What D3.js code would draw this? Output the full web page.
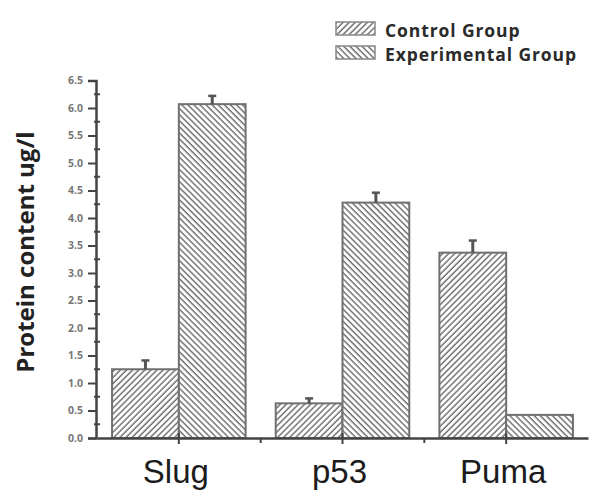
<!DOCTYPE html>
<html>
<head>
<meta charset="utf-8">
<script src="https://cdn.jsdelivr.net/npm/d3@7"></script>
<style>
  body { margin: 0; background: #fff; }
  svg { display: block; }
</style>
</head>
<body>
<div id="chart"></div>
<script>
// data
var categories = ["Slug", "p53", "Puma"];
var groups = ["Control Group", "Experimental Group"];
var controlValues = [1.25, 0.63, 3.37];
var controlErrors = [0.16, 0.09, 0.22];
var experimentalValues = [6.07, 4.28, 0.42];
var experimentalErrors = [0.15, 0.18, 0];
var yTicks = [0, 0.5, 1, 1.5, 2, 2.5, 3, 3.5, 4, 4.5, 5, 5.5, 6, 6.5];

var width = 595, height = 494;
var svg = d3.select('#chart').append('svg')
    .attr('width', width).attr('height', height);

// hatch patterns: "/" for control, "\" for experimental
var defs = svg.append('defs');
function hatch(id, angle){
    var p = defs.append('pattern')
        .attr('id', id)
        .attr('patternUnits', 'userSpaceOnUse')
        .attr('width', 4.3).attr('height', 4.3)
        .attr('patternTransform', 'rotate(' + angle + ')');
    p.append('rect').attr('width', 4.3).attr('height', 4.3).attr('fill', '#fff');
    p.append('line')
        .attr('x1', 1).attr('y1', 0).attr('x2', 1).attr('y2', 4.3)
        .attr('stroke', '#6a6a6a').attr('stroke-width', 1.4);
}
hatch('hatch-ctrl', 45);
hatch('hatch-exp', -45);
var fills = ['url(#hatch-ctrl)', 'url(#hatch-exp)'];

var rows = categories.map(function(c, i){
    return {cat: c, vals: [
        {g: 0, v: controlValues[i], e: controlErrors[i]},
        {g: 1, v: experimentalValues[i], e: experimentalErrors[i]}
    ]};
});

var x = d3.scaleBand().domain(categories).range([97, 588])
    .paddingInner(0.184).paddingOuter(0.092);
var xg = d3.scaleBand().domain([0, 1]).range([0, x.bandwidth()]);
var y = d3.scaleLinear().domain([0, 6.5]).range([438, 80.5]);

// bars
var grp = svg.append('g').selectAll('g').data(rows).enter().append('g')
    .attr('transform', function(d){ return 'translate(' + x(d.cat) + ',0)'; });

grp.selectAll('rect').data(function(d){ return d.vals; }).enter().append('rect')
    .attr('x', function(d){ return xg(d.g); })
    .attr('y', function(d){ return y(d.v); })
    .attr('width', xg.bandwidth())
    .attr('height', function(d){ return y(0) - y(d.v); })
    .attr('fill', function(d){ return fills[d.g]; })
    .attr('stroke', '#707070').attr('stroke-width', 2);

// error bars (upper half only)
var eb = grp.selectAll('g.err').data(function(d){ return d.vals.filter(function(v){ return v.e > 0; }); })
    .enter().append('g').attr('class', 'err');
eb.append('line')
    .attr('x1', function(d){ return xg(d.g) + xg.bandwidth()/2; })
    .attr('x2', function(d){ return xg(d.g) + xg.bandwidth()/2; })
    .attr('y1', function(d){ return y(d.v); })
    .attr('y2', function(d){ return y(d.v + d.e); })
    .attr('stroke', '#555').attr('stroke-width', 3);
eb.append('line')
    .attr('x1', function(d){ return xg(d.g) + xg.bandwidth()/2 - 4; })
    .attr('x2', function(d){ return xg(d.g) + xg.bandwidth()/2 + 4; })
    .attr('y1', function(d){ return y(d.v + d.e); })
    .attr('y2', function(d){ return y(d.v + d.e); })
    .attr('stroke', '#555').attr('stroke-width', 2.5);

// y axis
var yAxis = svg.append('g').attr('transform', 'translate(96,0)')
    .call(d3.axisLeft(y).tickValues(yTicks).tickFormat(d3.format('.1f')).tickSize(8).tickPadding(5));
yAxis.select('.domain').attr('stroke', '#444').attr('stroke-width', 2.5);
yAxis.selectAll('.tick line').attr('stroke', '#444').attr('stroke-width', 2);
yAxis.selectAll('.tick text')
    .attr('fill', '#777').attr('font-family', 'Open Sans, sans-serif')
    .attr('font-weight', 'bold').attr('font-size', 10.5);
// minor ticks
var minor = d3.range(0.25, 6.5, 0.5);
svg.append('g').selectAll('line').data(minor).enter().append('line')
    .attr('x1', 94).attr('x2', 100)
    .attr('y1', function(d){ return y(d); }).attr('y2', function(d){ return y(d); })
    .attr('stroke', '#444').attr('stroke-width', 2);

// x axis
var xAxis = svg.append('g').attr('transform', 'translate(0,' + y(0) + ')')
    .call(d3.axisBottom(x).tickSizeInner(5).tickSizeOuter(0).tickFormat(''));
xAxis.select('.domain').attr('stroke', '#444').attr('stroke-width', 2.5);
xAxis.selectAll('.tick line').attr('y1', -5).attr('y2', 6).attr('stroke', '#444').attr('stroke-width', 2);
// minor x ticks between groups
var xMinor = categories.slice(1).map(function(c){ return x(c) - x.step() * x.paddingInner() / 2; });
xAxis.append('g').selectAll('line').data(xMinor).enter().append('line')
    .attr('x1', function(d){ return d; }).attr('x2', function(d){ return d; })
    .attr('y1', 0).attr('y2', 5)
    .attr('stroke', '#444').attr('stroke-width', 2);

// category labels
svg.append('g').selectAll('text').data(categories).enter().append('text')
    .attr('x', function(d){ return x(d) + x.bandwidth()/2 - 3; })
    .attr('y', 483)
    .attr('text-anchor', 'middle')
    .attr('font-family', 'Liberation Sans, Arial, sans-serif')
    .attr('font-size', 33)
    .attr('fill', '#1c1c1c')
    .text(function(d){ return d; });

// y label
svg.append('text')
    .attr('transform', 'translate(34,252) rotate(-90)')
    .attr('text-anchor', 'middle')
    .attr('font-family', 'Open Sans, sans-serif')
    .attr('font-weight', 'bold')
    .attr('font-size', 24)
    .attr('fill', '#222')
    .text('Protein content ug/l');

// legend
var legend = svg.append('g').selectAll('g').data(groups).enter().append('g')
    .attr('transform', function(d, i){ return 'translate(336,' + (22 + i * 24) + ')'; });
legend.append('rect')
    .attr('width', 39).attr('height', 13)
    .attr('fill', function(d, i){ return fills[i]; })
    .attr('stroke', '#888').attr('stroke-width', 1.5);
legend.append('text')
    .attr('x', 49).attr('y', 15)
    .attr('font-family', 'Open Sans, sans-serif')
    .attr('font-weight', 'bold')
    .attr('font-size', 17.5)
    .attr('letter-spacing', 0.9)
    .attr('fill', '#2a2a2a')
    .text(function(d){ return d; });
</script>
</body>
</html>
